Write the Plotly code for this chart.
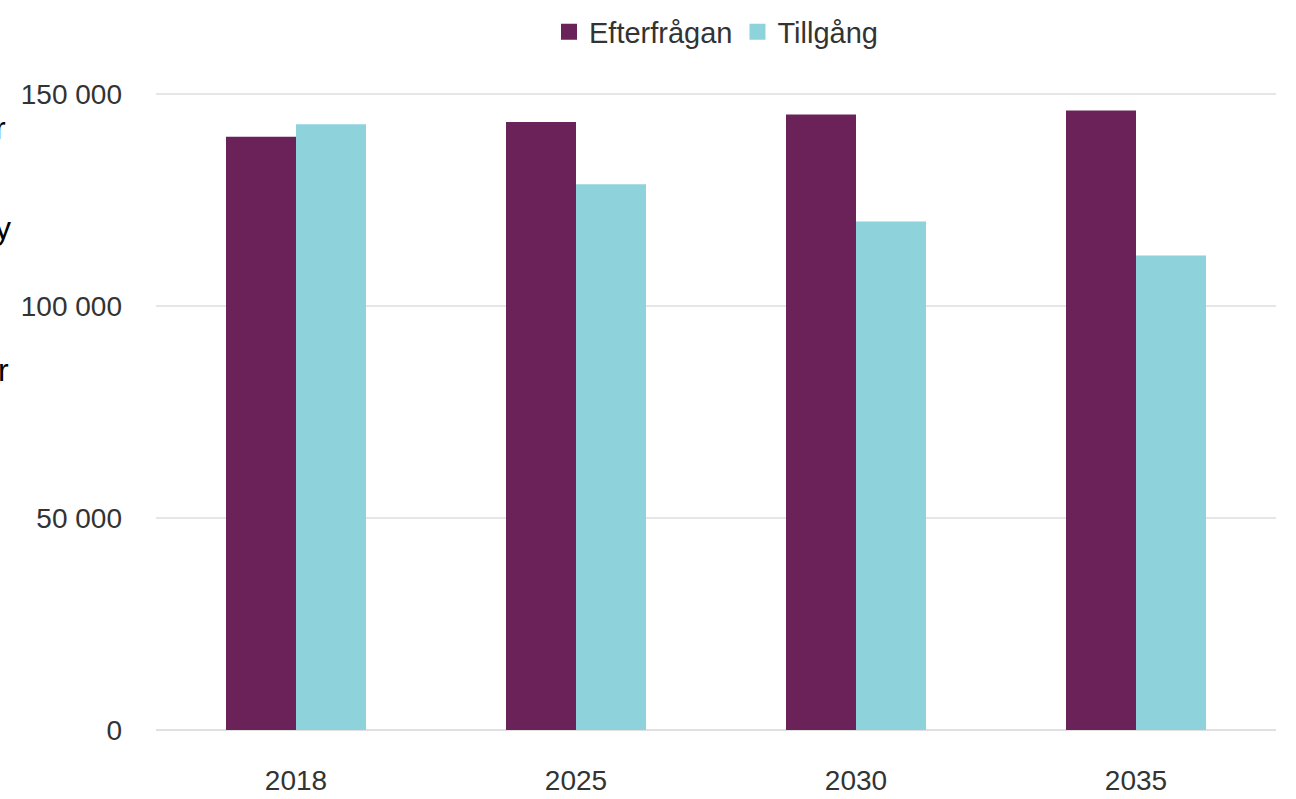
import plotly.graph_objects as go

years = ["2018", "2025", "2030", "2035"]
efterfragan = [140000, 143500, 145300, 146200]
tillgang = [143000, 128800, 120000, 112000]
tick_vals = [0, 50000, 100000, 150000]
tick_text = ["0", "50 000", "100 000", "150 000"]
series_names = ["Efterfrågan", "Tillgång"]

PURPLE = "#6b2259"
CYAN = "#8ed2dc"
FONT = "Liberation Sans, Arial, sans-serif"

fig = go.Figure()
fig.add_trace(go.Bar(name=series_names[0], x=years, y=efterfragan, marker_color=PURPLE,
                     marker_line_width=0, showlegend=False))
fig.add_trace(go.Bar(name=series_names[1], x=years, y=tillgang, marker_color=CYAN,
                     marker_line_width=0, showlegend=False))
# legend entries with larger square symbols
for nm, col in zip(series_names, [PURPLE, CYAN]):
    fig.add_trace(go.Scatter(name=nm, x=[None], y=[None], mode="markers",
                             marker=dict(symbol="square", size=22, color=col),
                             showlegend=True))

W, H = 1296, 799
L, R, T, B = 156, 20, 86, 69

fig.update_layout(
    width=W, height=H,
    margin=dict(l=L, r=R, t=T, b=B, autoexpand=False),
    barmode="group", bargap=0.5, bargroupgap=0,
    plot_bgcolor="white", paper_bgcolor="white",
    hovermode=False,
    font=dict(family=FONT, size=28, color="#333333"),
    legend=dict(orientation="h", x=0.5, xanchor="center", y=1 - 32 / H, yref="container",
                yanchor="middle", font=dict(size=29, color="#333333"),
                itemwidth=30, itemsizing="trace", tracegroupgap=0, traceorder="normal"),
    xaxis=dict(showgrid=False, showline=False, ticks="", tickfont=dict(size=28),
               ticklabelstandoff=31, automargin=False),
    yaxis=dict(range=[0, 152000], tickvals=tick_vals, ticktext=tick_text,
               showgrid=True, gridcolor="#e6e6e6", gridwidth=2,
               zeroline=True, zerolinecolor="#e0e0e0", zerolinewidth=2,
               showline=False, ticks="", ticklabelstandoff=33,
               tickfont=dict(size=28), automargin=False),
)

# cropped letters at the left edge of the original image
pw = W - L - R
ph = H - T - B
for txt, px, py in [("r", 0, 128), ("y", 3, 228), ("r", 3, 370)]:
    fig.add_annotation(text=txt, xref="paper", yref="paper",
                       x=(px - L) / pw, y=1 - (py - T) / ph,
                       xanchor="center", yanchor="middle", showarrow=False,
                       font=dict(size=32, color="#000000", family=FONT))

fig.write_html("out.html", config={"displayModeBar": False, "staticPlot": True},
               post_script="document.body.style.margin='0';")
